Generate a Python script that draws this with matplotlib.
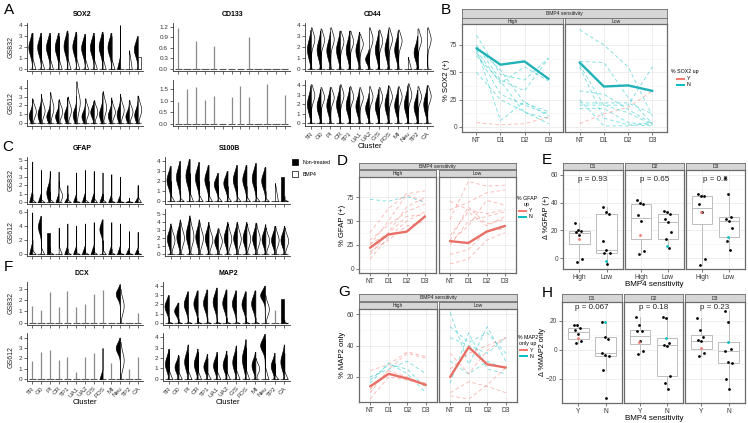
import numpy as np
import matplotlib
matplotlib.use('Agg')
import matplotlib.pyplot as plt
from matplotlib.lines import Line2D
from matplotlib.patches import Rectangle

plt.rcParams['font.family'] = ['Liberation Sans', 'DejaVu Sans']

W, H = 748, 423
fig = plt.figure(figsize=(W / 100, H / 100), dpi=100)

RED = '#F8766D'
TEAL = '#00BFC4'

# ---------------- data ----------------
clusters = ['TR', 'G0', 'PI', 'CR', 'TP1', 'UA1', 'UA2', 'G/S', 'FOS', 'MI', 'Neu', 'TP2', 'CA']

# violin panels: shape code per cluster + top value (NT = black left half, BMP4 = white right half)
sox2_832_nt_kind, sox2_832_nt_top = 'bbbbbbbbbbf-b', [3.3, 3.3, 3.3, 3.3, 3.5, 3.4, 3.2, 3.3, 3.4, 3.3, 4.0, 0, 3.0]
sox2_832_bmp_kind, sox2_832_bmp_top = 'ffffffffff-tx', [3.3, 3.0, 3.1, 3.0, 3.3, 3.2, 3.0, 3.0, 3.2, 3.0, 0, 1.7, 1.1]
sox2_612_nt_kind, sox2_612_nt_top = 'llllllldlllll', [2.8, 3.3, 2.6, 2.6, 2.9, 3.1, 2.6, 2.5, 3.4, 2.9, 3.3, 2.6, 3.1]
sox2_612_bmp_kind, sox2_612_bmp_top = 'ddddddddddddd', [2.7, 2.9, 3.5, 2.7, 3.0, 4.7, 2.8, 2.6, 3.6, 2.6, 3.0, 2.6, 3.1]

cd133_832_nt_kind, cd133_832_nt_top = 'sssssssssssss', [1.18, 0, 0.8, 0, 0.65, 0, 0, 0, 0.92, 0, 0, 0, 0]
cd133_832_bmp_kind, cd133_832_bmp_top = '-------------', [0] * 13
cd133_612_nt_kind, cd133_612_nt_top = 'sssssssssssss', [0.95, 1.5, 1.6, 1.05, 1.2, 0, 1.15, 1.62, 1.15, 0, 1.72, 0, 1.25]
cd133_612_bmp_kind, cd133_612_bmp_top = '-------------', [0] * 13

cd44_832_nt_kind, cd44_832_nt_top = 'dddddddddd-d-', [3.6, 3.5, 3.4, 3.5, 3.5, 3.4, 1.8, 3.5, 3.6, 3.5, 0, 3.0, 0]
cd44_832_bmp_kind, cd44_832_bmp_top = 'uuuuuuuuuutuu', [3.8, 3.7, 3.8, 3.5, 3.5, 3.2, 3.8, 3.6, 3.8, 3.6, 1.1, 3.7, 3.8]
cd44_612_nt_kind, cd44_612_nt_top = 'ddddddddddddd', [4.0, 3.6, 3.8, 4.0, 3.8, 3.6, 3.2, 3.6, 4.0, 3.8, 4.0, 3.5, 4.0]
cd44_612_bmp_kind, cd44_612_bmp_top = 'uuuuuuuuuuuuu', [4.1, 3.8, 3.8, 4.1, 3.9, 3.8, 3.9, 3.8, 3.9, 3.9, 4.2, 3.9, 4.0]

gfap_832_nt_kind, gfap_832_nt_top = 'fflffffffffff', [4.8, 3.8, 3.7, 3.6, 2.0, 3.5, 3.8, 3.7, 3.5, 3.3, 3.0, 0.5, 2.0]
gfap_832_bmp_kind, gfap_832_bmp_top = 'ffflfffffffff', [1.0, 1.0, 1.2, 2.5, 1.0, 0.5, 1.0, 1.5, 1.0, 0.5, 0.3, 0.3, 2.0]
gfap_612_nt_kind, gfap_612_nt_top = 'fux-ffffuffff', [6.0, 5.5, 3.0, 0, 4.4, 4.1, 4.4, 4.6, 5.0, 4.6, 4.4, 3.3, 3.2]
gfap_612_bmp_kind, gfap_612_bmp_top = 'fffffffffffff', [2.0, 3.0, 1.0, 3.8, 0.8, 0.8, 0.8, 1.0, 2.0, 0.8, 0.5, 0.5, 0.5]

s100b_832_nt_kind, s100b_832_nt_top = 'bbbbbbbbbbb-x', [3.5, 4.0, 4.2, 3.9, 3.6, 2.8, 3.0, 3.6, 3.6, 3.8, 3.4, 0, 2.4]
s100b_832_bmp_kind, s100b_832_bmp_top = 'ffffffffffftf', [2.0, 1.0, 2.8, 2.0, 2.0, 1.5, 1.5, 1.5, 1.5, 1.5, 1.0, 1.8, 0.5]
s100b_612_nt_kind, s100b_612_nt_top = 'ddddddddddddd', [3.8, 4.3, 4.8, 4.3, 4.0, 3.2, 4.0, 4.0, 4.0, 3.9, 3.7, 3.5, 3.5]
s100b_612_bmp_kind, s100b_612_bmp_top = 'ddddddddddddd', [3.5, 4.0, 4.5, 4.0, 3.6, 3.2, 3.8, 3.8, 3.8, 3.8, 3.3, 3.5, 3.3]

dcx_832_nt_kind, dcx_832_nt_top = 'sssssssss-n-s', [1.5, 1.1, 2.7, 1.4, 2.8, 1.4, 1.7, 2.5, 2.9, 0, 3.4, 0, 0.9]
dcx_832_bmp_kind, dcx_832_bmp_top = '----------d--', [0, 0, 0, 0, 0, 0, 0, 0, 0, 0, 3.0, 0, 0]
dcx_612_nt_kind, dcx_612_nt_top = 'ssssssssfsnss', [1.7, 2.6, 2.8, 1.8, 2.1, 0.7, 2.1, 2.5, 3.0, 1.5, 4.0, 1.0, 2.1]
dcx_612_bmp_kind, dcx_612_bmp_top = '----------d--', [0, 0, 0, 0, 0, 0, 0, 0, 0, 0, 3.6, 0, 0]

map2_832_nt_kind, map2_832_nt_top = 'bbbbbbbbbbn-x', [3.0, 2.2, 3.4, 3.5, 3.6, 3.8, 3.6, 3.5, 3.4, 3.5, 4.0, 0, 2.6]
map2_832_bmp_kind, map2_832_bmp_top = 'ffffffffffdsf', [0.6, 0.5, 0.6, 0.6, 0.6, 0.5, 0.6, 0.6, 0.6, 0.6, 3.0, 1.4, 0.4]
map2_612_nt_kind, map2_612_nt_top = 'ddddddddddndd', [2.9, 2.3, 3.3, 2.9, 2.4, 2.6, 2.7, 3.2, 3.8, 2.6, 4.3, 2.5, 3.3]
map2_612_bmp_kind, map2_612_bmp_top = 'fffffffffdfff', [2.8, 2.2, 2.5, 2.6, 2.0, 2.4, 2.3, 2.8, 3.0, 2.0, 3.8, 1.5, 2.5]

# line panels (NT, D1, D2, D3)
days = ['NT', 'D1', 'D2', 'D3']
sox2_high_n = [[84, 48, 43, 63], [75, 43, 33, 63], [70, 40, 55, 42], [73, 52, 22, 14],
               [68, 30, 20, 12], [72, 6, 23, 10], [50, 25, 14, 3], [65, 42, 13, 8]]
sox2_high_y = [[4, 2, 3, 9]]
sox2_high_all = [72, 57, 60, 44]
sox2_low_n = [[89, 75, 55, 10], [60, 59, 27, 3], [57, 20, 20, 55], [33, 30, 16, 3], [22, 22, 22, 12],
              [20, 20, 13, 2], [17, 17, 4, 2], [55, 8, 2, 1], [25, 1, 1, 4]]
sox2_low_y = [[3, 12, 18, 33]]
sox2_low_all = [59, 37, 38, 33]

gfap_high_y = [[38, 63, 79, 82], [25, 50, 78, 70], [15, 38, 65, 75], [10, 33, 50, 60],
               [18, 30, 45, 50], [26, 37, 55, 57], [30, 46, 60, 68]]
gfap_high_n = [[73, 71, 76, 70]]
gfap_high_all = [22, 36, 39, 55]
gfap_low_y = [[71, 62, 58, 62], [52, 92, 87, 88], [62, 70, 80, 83], [35, 60, 45, 55], [25, 50, 55, 60],
              [15, 20, 40, 42], [5, 10, 30, 38], [30, 65, 47, 52], [28, 45, 72, 67]]
gfap_low_n = []
gfap_low_all = [29, 27, 39, 45]

map2_high_y = [[24, 28, 36, 33], [10, 25, 35, 32], [12, 24, 20, 14], [6, 20, 18, 16]]
map2_high_n = [[16, 29, 22, 10], [18, 28, 25, 13], [20, 25, 30, 22]]
map2_high_all = [14, 22, 19, 15]
map2_low_y = [[10, 17, 14, 10], [8, 6, 15, 26], [25, 35, 40, 45], [35, 22, 37, 45]]
map2_low_n = [[61, 28, 52, 30], [45, 40, 35, 45], [52, 42, 48, 35], [30, 22, 30, 25], [16, 48, 25, 22]]
map2_low_all = [20, 39, 28, 26]

# box panels: delta values per day, plus one highlighted sample per group
e_days = ['D1', 'D2', 'D3']
e_high = [[25, 20, 19.5, 19, 17, -1, -3], [42, 40, 39, 31, 27, 5, 3], [46, 45, 45, 39, 33, -1, -5]]
e_low = [[37, 33, 32, 12, 6, 4, 4, -4], [34, 33, 32, 28, 26, 19, 14, 7], [58, 46, 30, 28, 27, 22, 12, 6]]
e_high_mark = [14, 17, 33]
e_low_mark = [-2, 9, 15]
e_pvals = ['p = 0.93', 'p = 0.65', 'p = 0.8']

h_y = [[17, 17, 15, 14, 11, 6, 5], [23, 17, 13, 13, 6, -1, -3], [22, 14, 9, 7, 6, -2, -4]]
h_n = [[19, 9, 7.5, -2, -3.5, -4, -14, -33], [23, 22, 5, 3.5, 3, -18, -23, -27], [27, 19, 0.5, -1, -8, -9, -20, -27]]
h_y_mark = [8, 5.5, 1.5]
h_n_mark = [19, 8, 5.5]
h_pvals = ['p = 0.067', 'p = 0.18', 'p = 0.23']


# ---------------- helpers ----------------
def box(x0, y0, x1, y1):
    return [x0 / W, 1 - y1 / H, (x1 - x0) / W, (y1 - y0) / H]


def half_violin(ax, x, kind, top, side, fc):
    if kind == '-' or top <= 0:
        return
    if kind == 's':
        ax.vlines(x, 0, top, color='#8a8a8a', lw=0.9, zorder=2)
        return
    y = np.linspace(0, top, 80)
    hw = 0.40
    if kind == 'b':
        v = np.exp(-((y - 0.6 * top) / (0.3 * top)) ** 2) + 0.15 * np.exp(-(y / 0.2) ** 2) + 0.04
        hw = 0.44
    elif kind == 'd':
        v = np.exp(-((y - 0.5 * top) / (0.32 * top)) ** 2) + 0.2 * np.exp(-(y / 0.2) ** 2) + 0.04
        hw = 0.4
    elif kind == 'l':
        v = np.exp(-((y - 0.3 * top) / (0.3 * top)) ** 2) + 0.04
    elif kind == 'u':
        v = np.exp(-((y - 0.72 * top) / (0.22 * top)) ** 2) + 0.15 * np.exp(-(y / 0.3) ** 2) + 0.04
        hw = 0.36
    elif kind == 'f':
        v = np.clip(1 - y / (0.3 * top), 0, None) + 0.04
        hw = 0.35
    elif kind == 't':
        v = 1 - y / top + 0.04
        hw = 0.32
    elif kind == 'n':
        v = np.exp(-((y - 0.75 * top) / (0.18 * top)) ** 2) + 0.05
        hw = 0.5
    else:  # box
        v = np.ones_like(y)
        hw = 0.35
    st = [dict(coords=y, vals=v, mean=top / 2, median=top / 2, min=0, max=top)]
    parts = ax.violin(st, positions=[x], widths=2 * hw, side=side, showextrema=False)
    for b in parts['bodies']:
        b.set_facecolor(fc)
        b.set_edgecolor('black')
        b.set_linewidth(0.45)
        b.set_alpha(1)
        b.set_zorder(2)


def violin_panel(rect, ylim, yticks, ylabels, ntk, ntt, bmk, bmt, xlabels=False):
    ax = fig.add_axes(box(*rect))
    ax.patch.set_alpha(0)
    x = np.arange(len(clusters))
    ax.hlines(np.zeros(len(x)), x - 0.42, x + 0.42, color='#555555', lw=0.8, zorder=1)
    for i in x:
        half_violin(ax, i, ntk[i], ntt[i], 'low', 'black')
        half_violin(ax, i, bmk[i], bmt[i], 'high', 'white')
    ax.set_xlim(-0.6, 12.6)
    ax.set_ylim(ylim)
    ax.set_yticks(yticks)
    ax.set_yticklabels(ylabels)
    ax.set_xticks(x)
    if xlabels:
        ax.set_xticklabels(clusters, rotation=45, ha='right', rotation_mode='anchor', fontsize=5.2)
    else:
        ax.set_xticklabels([])
    for s in ['top', 'right']:
        ax.spines[s].set_visible(False)
    for s in ['left', 'bottom']:
        ax.spines[s].set_linewidth(0.6)
        ax.spines[s].set_color('#333333')
    ax.tick_params(length=2, width=0.5, labelsize=4.6, pad=1.5, colors='#333333')
    return ax


def facet_axes(rect, ylim, yticks, xticks, xlabels, show_y, xfs=5.6):
    ax = fig.add_axes(box(*rect))
    ax.set_facecolor('white')
    ax.set_ylim(ylim)
    ax.set_yticks(yticks)
    mids = [(a + b) / 2 for a, b in zip(yticks[:-1], yticks[1:])]
    ax.set_yticks(mids, minor=True)
    ax.set_xticks(xticks)
    ax.set_xticklabels(xlabels, fontsize=xfs)
    ax.grid(True, which='major', color='#EBEBEB', lw=0.6)
    ax.grid(True, which='minor', axis='y', color='#F4F4F4', lw=0.4)
    ax.set_axisbelow(True)
    for s in ax.spines.values():
        s.set_color('#6b6b6b')
        s.set_linewidth(0.9)
    ax.tick_params(which='minor', length=0)
    ax.tick_params(length=2, width=0.5, labelsize=4.8, pad=1.5, colors='#444444')
    ax.tick_params(axis='x', labelcolor='#333333')
    if not show_y:
        ax.tick_params(axis='y', left=False, labelleft=False)
    return ax


def strip(x0, y0, x1, y1, text):
    sa = fig.add_axes(box(x0, y0, x1, y1))
    sa.set_facecolor('#D6D6D6')
    sa.set_xticks([])
    sa.set_yticks([])
    for s in sa.spines.values():
        s.set_color('#6b6b6b')
        s.set_linewidth(0.6)
    sa.text(0.5, 0.45, text, ha='center', va='center', fontsize=3.6, color='#222222',
            transform=sa.transAxes)


def line_facet(rect, ylim, yticks, n_lines, y_lines, thick, thick_color, show_y):
    ax = facet_axes(rect, ylim, yticks, range(4), days, show_y)
    xs = np.arange(4)
    for l in n_lines:
        ax.plot(xs, l, color=TEAL, lw=0.65, ls=(0, (4, 3)), alpha=0.5)
    for l in y_lines:
        ax.plot(xs, l, color=RED, lw=0.65, ls=(0, (4, 3)), alpha=0.5)
    ax.plot(xs, thick, color=thick_color, lw=1.7, solid_capstyle='round')
    ax.set_xlim(-0.6, 3.6)
    return ax


def box_facet(rect, ylim, yticks, groups, marks, mcolors, ptext, py, xlabels, show_y):
    ax = facet_axes(rect, ylim, yticks, [0, 1], xlabels, show_y, xfs=6.2)
    for j, (vals, mk, mc) in enumerate(zip(groups, marks, mcolors)):
        allv = list(vals) + [mk]
        bp = ax.boxplot([allv], positions=[j], widths=0.75, showfliers=False, showcaps=False,
                        patch_artist=True, manage_ticks=False)
        for b in bp['boxes']:
            b.set_facecolor('white')
            b.set_edgecolor('#BDBDBD')
            b.set_linewidth(0.7)
        for k in ['whiskers', 'medians']:
            for l in bp[k]:
                l.set_color('#BDBDBD')
                l.set_linewidth(0.7)
        n = len(vals)
        off = ((np.arange(n) * 0.37) % 1 - 0.5) * 0.3
        ax.scatter(j + off, vals, s=4, color='black', zorder=3, lw=0)
        ax.scatter([j - 0.03], [mk], s=4, color=mc, zorder=3, lw=0)
    ax.set_xlim(-0.6, 1.6)
    ax.text(0.5, py, ptext, ha='center', va='center', fontsize=5.8, color='#222222')
    return ax


# ---------------- panel A ----------------
t4 = [0, 1, 2, 3, 4]
violin_panel((27, 23, 143, 71), (-0.2, 4.2), t4, t4, sox2_832_nt_kind, sox2_832_nt_top,
             sox2_832_bmp_kind, sox2_832_bmp_top)
violin_panel((27, 80, 143, 126), (-0.3, 4.85), t4, t4, sox2_612_nt_kind, sox2_612_nt_top,
             sox2_612_bmp_kind, sox2_612_bmp_top)
violin_panel((173, 23, 290, 71), (-0.06, 1.31), [0, 0.3, 0.6, 0.9, 1.2], ['0.0', '0.3', '0.6', '0.9', '1.2'],
             cd133_832_nt_kind, cd133_832_nt_top, cd133_832_bmp_kind, cd133_832_bmp_top)
violin_panel((173, 80, 290, 126), (-0.08, 1.89), [0, 0.5, 1.0, 1.5], ['0.0', '0.5', '1.0', '1.5'],
             cd133_612_nt_kind, cd133_612_nt_top, cd133_612_bmp_kind, cd133_612_bmp_top)
violin_panel((305, 23, 433, 71), (-0.2, 4.2), t4, t4, cd44_832_nt_kind, cd44_832_nt_top,
             cd44_832_bmp_kind, cd44_832_bmp_top)
violin_panel((305, 80, 433, 126), (-0.3, 4.55), t4, t4, cd44_612_nt_kind, cd44_612_nt_top,
             cd44_612_bmp_kind, cd44_612_bmp_top, xlabels=True)

# ---------------- panel C ----------------
t5 = [0, 1, 2, 3, 4, 5]
violin_panel((27, 157, 143, 204), (-0.25, 5.35), t5, t5, gfap_832_nt_kind, gfap_832_nt_top,
             gfap_832_bmp_kind, gfap_832_bmp_top)
violin_panel((27, 209, 143, 256), (-0.3, 6.5), [0, 2, 4, 6], [0, 2, 4, 6], gfap_612_nt_kind, gfap_612_nt_top,
             gfap_612_bmp_kind, gfap_612_bmp_top)
violin_panel((165, 157, 290, 204), (-0.3, 4.4), t4, t4, s100b_832_nt_kind, s100b_832_nt_top,
             s100b_832_bmp_kind, s100b_832_bmp_top)
violin_panel((165, 209, 290, 256), (-0.25, 5.6), t5, t5, s100b_612_nt_kind, s100b_612_nt_top,
             s100b_612_bmp_kind, s100b_612_bmp_top)

# ---------------- panel F ----------------
violin_panel((27, 282, 143, 325), (-0.2, 3.6), [0, 1, 2, 3], [0, 1, 2, 3], dcx_832_nt_kind, dcx_832_nt_top,
             dcx_832_bmp_kind, dcx_832_bmp_top)
violin_panel((27, 333, 143, 381), (-0.2, 4.45), t4, t4, dcx_612_nt_kind, dcx_612_nt_top,
             dcx_612_bmp_kind, dcx_612_bmp_top, xlabels=True)
violin_panel((163, 282, 290, 325), (-0.2, 4.4), t4, t4, map2_832_nt_kind, map2_832_nt_top,
             map2_832_bmp_kind, map2_832_bmp_top)
violin_panel((163, 333, 290, 381), (-0.2, 4.4), t4, t4, map2_612_nt_kind, map2_612_nt_top,
             map2_612_bmp_kind, map2_612_bmp_top, xlabels=True)

# titles, row labels, axis labels for violin blocks
for txt, x, y in [('SOX2', 82, 15), ('CD133', 233, 15), ('CD44', 372, 15),
                  ('GFAP', 82, 148), ('S100B', 230, 148), ('DCX', 82, 273), ('MAP2', 228, 273)]:
    fig.text(x / W, 1 - y / H, txt, ha='center', va='center', fontsize=5, fontweight='bold')
for txt, y in [('GS832', 47), ('GS612', 103), ('GS832', 180), ('GS612', 232), ('GS832', 303), ('GS612', 357)]:
    fig.text(11 / W, 1 - y / H, txt, ha='center', va='center', fontsize=5, rotation=90, color='#222222')
for x, y in [(370, 146), (85, 402), (228, 402)]:
    fig.text(x / W, 1 - y / H, 'Cluster', ha='center', va='center', fontsize=5.6)

# legend Non-treated / BMP4
fig.add_artist(Rectangle((292 / W, 1 - 165 / H), 6 / W, 6 / H, facecolor='black', edgecolor='black', lw=0.5))
fig.add_artist(Rectangle((292 / W, 1 - 177 / H), 6 / W, 6 / H, facecolor='white', edgecolor='black', lw=0.5))
fig.text(303 / W, 1 - 162 / H, 'Non-treated', fontsize=3.8, va='center')
fig.text(303 / W, 1 - 174 / H, 'BMP4', fontsize=3.8, va='center')

# ---------------- panel B ----------------
strip(462, 9, 667, 18, 'BMP4 sensitivity')
strip(462, 18, 563, 24, 'High')
strip(565, 18, 667, 24, 'Low')
yt = [0, 25, 50, 75]
line_facet((462, 24, 563, 132), (-4.6, 94.2), yt, sox2_high_n, sox2_high_y, sox2_high_all, '#20B2B6', True)
line_facet((565, 24, 667, 132), (-4.6, 94.2), yt, sox2_low_n, sox2_low_y, sox2_low_all, '#20B2B6', False)
fig.text(446 / W, 1 - 80 / H, '% SOX2 (+)', rotation=90, ha='center', va='center', fontsize=5.6)

# ---------------- panel D ----------------
strip(359, 163, 516, 169, 'BMP4 sensitivity')
strip(359, 170, 436, 177, 'High')
strip(439, 170, 516, 177, 'Low')
line_facet((359, 177, 436, 273), (-4.6, 96.6), yt, gfap_high_n, gfap_high_y, gfap_high_all, '#E86F66', True)
line_facet((439, 177, 516, 273), (-4.6, 96.6), yt, gfap_low_n, gfap_low_y, gfap_low_all, '#E86F66', False)
fig.text(343 / W, 1 - 225 / H, '% GFAP (+)', rotation=90, ha='center', va='center', fontsize=5.6)

# ---------------- panel G ----------------
strip(359, 294, 517, 301, 'BMP4 sensitivity')
strip(359, 302, 437, 309, 'High')
strip(439, 302, 517, 309, 'Low')
ytg = [20, 40, 60]
line_facet((359, 309, 437, 402), (4.1, 63.2), ytg, map2_high_n, map2_high_y, map2_high_all, '#E86F66', True)
line_facet((439, 309, 517, 402), (4.1, 63.2), ytg, map2_low_n, map2_low_y, map2_low_all, '#E86F66', False)
fig.text(343 / W, 1 - 355 / H, '% MAP2 only', rotation=90, ha='center', va='center', fontsize=5.6)


# legends for line panels
def line_legend(x, y, title_lines):
    for k, t in enumerate(title_lines):
        fig.text(x / W, 1 - (y + 6 * k) / H, t, ha='center', va='center', fontsize=3.8)
    yy = y + 6 * len(title_lines) + 1
    for k, (lab, c) in enumerate([('Y', RED), ('N', TEAL)]):
        ly = 1 - (yy + 6 * k) / H
        fig.add_artist(Line2D([(x - 8) / W, (x - 1) / W], [ly, ly], color=c, lw=1.4))
        fig.text((x + 2) / W, ly, lab, va='center', fontsize=3.8)


line_legend(685, 72, ['% SOX2 up'])
line_legend(527, 198, ['% GFAP', 'up'])
line_legend(528, 337, ['% MAP2', 'only up'])

# ---------------- panel E ----------------
e_cols = [(563, 623), (625, 684), (686, 745)]
for k, (x0, x1) in enumerate(e_cols):
    strip(x0, 163, x1, 170, e_days[k])
    box_facet((x0, 170, x1, 269), (-7.9, 63.6), [0, 20, 40, 60],
              [e_high[k], e_low[k]], [e_high_mark[k], e_low_mark[k]], [RED, TEAL],
              e_pvals[k], 56.5, ['High', 'Low'], k == 0)
fig.text(654 / W, 1 - 285 / H, 'BMP4 sensitivity', ha='center', va='center', fontsize=5.8)
fig.text(546 / W, 1 - 217 / H, '\u0394 %GFAP (+)', rotation=90, ha='center', va='center', fontsize=5.2)

# ---------------- panel H ----------------
h_cols = [(562, 622), (624, 683), (685, 745)]
for k, (x0, x1) in enumerate(h_cols):
    strip(x0, 294, x1, 302, e_days[k])
    box_facet((x0, 302, x1, 403), (-36.6, 33.1), [-20, 0, 20],
              [h_y[k], h_n[k]], [h_y_mark[k], h_n_mark[k]], [RED, TEAL],
              h_pvals[k], 29.5, ['Y', 'N'], k == 0)
fig.text(654 / W, 1 - 418 / H, 'BMP4 sensitivity', ha='center', va='center', fontsize=5.8)
fig.text(542 / W, 1 - 352 / H, '\u0394 %MAP2 only', rotation=90, ha='center', va='center', fontsize=5.2)

# panel letters
for lab, x, y in [('A', 9, 10), ('B', 446, 10), ('C', 8, 147), ('D', 342, 161), ('E', 547, 160),
                  ('F', 8, 267), ('G', 344, 292), ('H', 547, 293)]:
    fig.text(x / W, 1 - y / H, lab, ha='center', va='center', fontsize=11)

plt.savefig('out.png', dpi=100)
